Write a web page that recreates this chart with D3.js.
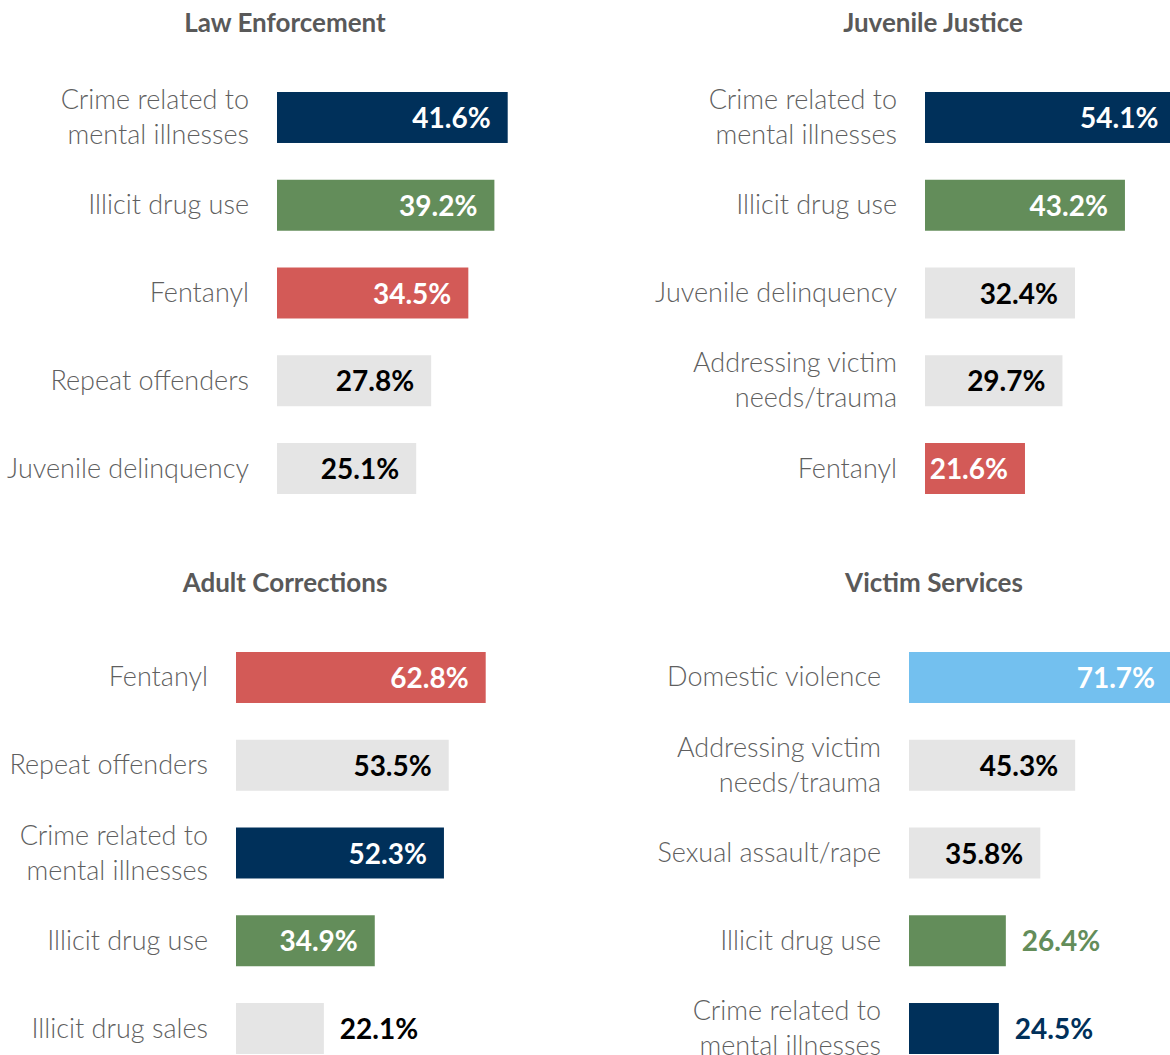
<!DOCTYPE html>
<html>
<head>
<meta charset="utf-8">
<script src="https://cdn.jsdelivr.net/npm/d3@7"></script>
<style>
  body { margin: 0; background: #fff; }
  text { font-family: Lato, "Open Sans", sans-serif; }
</style>
</head>
<body>
<div id="chart"></div>
<script>
// panel titles
const panelTitles = ["Law Enforcement", "Juvenile Justice", "Adult Corrections", "Victim Services"];

// categories per panel ("|" = line break)
const lawCats = ["Crime related to|mental illnesses", "Illicit drug use", "Fentanyl", "Repeat offenders", "Juvenile delinquency"];
const lawVals = [41.6, 39.2, 34.5, 27.8, 25.1];

const juvCats = ["Crime related to|mental illnesses", "Illicit drug use", "Juvenile delinquency", "Addressing victim|needs/trauma", "Fentanyl"];
const juvVals = [54.1, 43.2, 32.4, 29.7, 21.6];

const adultCats = ["Fentanyl", "Repeat offenders", "Crime related to|mental illnesses", "Illicit drug use", "Illicit drug sales"];
const adultVals = [62.8, 53.5, 52.3, 34.9, 22.1];

const victimCats = ["Domestic violence", "Addressing victim|needs/trauma", "Sexual assault/rape", "Illicit drug use", "Crime related to|mental illnesses"];
const victimVals = [71.7, 45.3, 35.8, 26.4, 24.5];

const highlight = {
  "Crime related to|mental illnesses": "#00305A",
  "Illicit drug use": "#638D5A",
  "Fentanyl": "#D35A57",
  "Domestic violence": "#73C0EF"
};
const grey = "#E5E5E5";

const width = 1170, height = 1055;

// layout for each panel
const panels = [
  { title: panelTitles[0], cats: lawCats, vals: lawVals, titleX: 285, titleY: 32, barX: 277, maxW: 230.7, top: 92 },
  { title: panelTitles[1], cats: juvCats, vals: juvVals, titleX: 933, titleY: 32, barX: 925, maxW: 250.4, top: 92 },
  { title: panelTitles[2], cats: adultCats, vals: adultVals, titleX: 285, titleY: 592, barX: 236, maxW: 249.7, top: 652 },
  { title: panelTitles[3], cats: victimCats, vals: victimVals, titleX: 934, titleY: 592, barX: 909, maxW: 263, top: 652 }
];

const svg = d3.select("#chart").append("svg")
  .attr("width", width)
  .attr("height", height);

panels.forEach(p => {
  const data = p.cats.map((c, i) => ({ cat: c, val: p.vals[i] }));

  const x = d3.scaleLinear()
    .domain([0, d3.max(p.vals)])
    .range([0, p.maxW]);

  const y = d3.scaleBand()
    .domain(p.cats)
    .range([p.top, p.top + 402])
    .paddingInner(0.419)
    .paddingOuter(0);

  const g = svg.append("g");

  g.append("text")
    .attr("x", p.titleX)
    .attr("y", p.titleY)
    .attr("text-anchor", "middle")
    .attr("fill", "#595959")
    .attr("font-size", 26)
    .attr("font-weight", 700)
    .text(p.title);

  g.selectAll("rect")
    .data(data)
    .join("rect")
    .attr("x", p.barX)
    .attr("y", d => y(d.cat))
    .attr("width", d => x(d.val))
    .attr("height", y.bandwidth())
    .attr("fill", d => highlight[d.cat] || grey);

  // category labels
  const lab = g.selectAll("text.cat")
    .data(data)
    .join("text")
    .attr("class", "cat")
    .attr("text-anchor", "end")
    .attr("fill", "#5f5f5f")
    .attr("font-size", 27)
    .attr("font-weight", 300);

  lab.each(function (d) {
    const lines = d.cat.split("|");
    const cy = y(d.cat) + y.bandwidth() / 2 + 9;
    const t = d3.select(this);
    lines.forEach((line, i) => {
      t.append("tspan")
        .attr("x", p.barX - 28)
        .attr("y", cy + (i - (lines.length - 1) / 2) * 35)
        .text(line);
    });
  });

  // value labels
  g.selectAll("text.val")
    .data(data)
    .join("text")
    .attr("class", "val")
    .attr("font-size", 28)
    .attr("font-weight", 700)
    .attr("y", d => y(d.cat) + y.bandwidth() / 2 + 10.5)
    .each(function (d) {
      const w = x(d.val);
      const col = highlight[d.cat];
      const inside = w >= 98;
      d3.select(this)
        .attr("x", inside ? p.barX + w - 17 : p.barX + w + 16)
        .attr("text-anchor", inside ? "end" : "start")
        .attr("fill", col ? (inside ? "#fff" : col) : "#000")
        .text(d3.format(".1f")(d.val) + "%");
    });
});
</script>
</body>
</html>
